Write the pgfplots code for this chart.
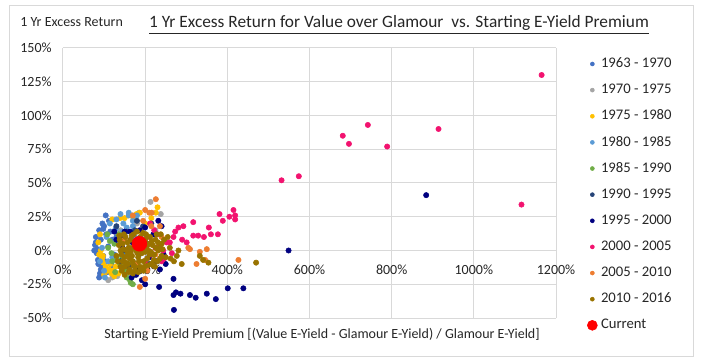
\documentclass[border=0pt]{standalone}
\usepackage{fontspec}
\setmainfont{Carlito}
\usepackage{pgfplots}
\pgfplotsset{compat=1.18}
\definecolor{c1}{HTML}{4472C4}
\definecolor{c2}{HTML}{A5A5A5}
\definecolor{c3}{HTML}{FFC000}
\definecolor{c4}{HTML}{5B9BD5}
\definecolor{c5}{HTML}{70AD47}
\definecolor{c6}{HTML}{264478}
\definecolor{c7}{HTML}{000080}
\definecolor{c8}{HTML}{F2136F}
\definecolor{c9}{HTML}{ED7D31}
\definecolor{c10}{HTML}{997300}
\definecolor{cur}{HTML}{FF0000}
\definecolor{gridc}{HTML}{D9D9D9}
\definecolor{txt}{HTML}{262626}
\pgfplotsset{
  dots/.style={only marks, mark=*, mark size=2pt, color=#1, mark options={draw=#1, fill=#1}},
}
\begin{document}
\begin{tikzpicture}
\begin{scope}[x=0.75pt,y=-0.75pt]
\useasboundingbox (0,0) rectangle (703,363);
\draw[color=gridc, line width=0.75pt] (9.5,5.5) rectangle (693.5,356.5);
\node[anchor=base, text=txt, font=\fontsize{13}{15}\selectfont] at (399,28) {\underline{1 Yr Excess Return for Value over Glamour\ \ vs. Starting E-Yield Premium}};
\node[anchor=base west, text=txt, font=\fontsize{10.5}{12}\selectfont, inner sep=0pt] at (20,27) {1 Yr Excess Return};
\node[anchor=base, text=txt, font=\fontsize{10.5}{12}\selectfont] at (322,338) {Starting E-Yield Premium [(Value E-Yield - Glamour E-Yield) / Glamour E-Yield]};
\end{scope}
\begin{axis}[
  at={(47.25pt,-238.5pt)}, anchor=south west,
  scale only axis, width=369.75pt, height=202.5pt,
  xmin=0, xmax=1200, ymin=-50, ymax=150,
  xtick={0,200,...,1200},
  xticklabels={0\%,200\%,400\%,600\%,800\%,1000\%,1200\%},
  ytick={-50,-25,...,150},
  yticklabels={-50\%,-25\%,0\%,25\%,50\%,75\%,100\%,125\%,150\%},
  grid=major, major grid style={draw=gridc, line width=0.75pt},
  axis line style={draw=none}, major tick length=0pt,
  tick label style={font=\fontsize{10.5}{12}\selectfont, text=txt},
  xticklabel style={anchor=base, yshift=32.25pt},
  yticklabel style={anchor=east, xshift=-5pt},
  legend style={at={(axis description cs:1.0629,0.9667)}, anchor=north west, draw=none, fill=none,
    inner sep=0pt, outer sep=0pt, row sep=9.1pt, column sep=2.5pt,
    nodes={inner sep=0pt, text height=8pt, text depth=2.5pt, font=\fontsize{11}{13}\selectfont, text=txt}},
  legend cell align=left,
  legend image code/.code={\path[draw=none,fill=none] (-4pt,-4pt) rectangle (4pt,4pt); \fill[#1] (0pt,0pt) circle (1.5pt);},
]
\addplot[dots=c1] coordinates {(78,4)(80,10)(82,-2)(85,-7)(88,15)(90,-17)(84,1)(92,8)(95,-12)(100,18)(98,-4)(105,12)(110,3)(86,-10)(92,-14)(80,6)(103,-8)(115,14)(120,8)(96,20)(108,-16)(125,-3)(130,10)(118,-11)(112,22)(98,16)(104,26)(76,0)(88,-20)};
\addlegendentry{1963 - 1970}
\addplot[dots=c2] coordinates {(213,36)(238,27)(132,-19)(150,-12)(160,5)(170,-8)(140,15)(180,20)(195,12)(165,-15)(205,-5)(120,-20)(185,28)(225,15)(110,-22)};
\addlegendentry{1970 - 1975}
\addplot[dots=c3] coordinates {(86,6)(92,0)(97,-4)(98,-9)(104,-12)(112,-14)(120,-15)(108,-15)(128,-12)(90,12)(120,23)(139,24)(160,26)(179,27)(187,28)(170,25)(150,24)(226,28)(200,20)(135,-17)(100,-18)(95,-6)(115,-10)(215,24)(230,32)(190,14)(88,-3)(118,-17)(125,-19)};
\addlegendentry{1975 - 1980}
\addplot[dots=c4] coordinates {(114,20)(130,23)(147,20)(155,17)(106,10)(100,-15)(120,-5)(135,5)(170,18)(160,26)(140,27)(128,16)(110,-8)(150,-3)(175,10)(95,2)(145,14)(160,28)(170,22)(180,26)(102,-20)(90,-8)};
\addlegendentry{1980 - 1985}
\addplot[dots=c5] coordinates {(114,7)(110,2)(118,-2)(131,-6)(139,-10)(155,-20)(163,-22)(150,-15)(125,5)(145,-5)(170,-25)(175,-18)(135,12)(120,-8)(160,-10)(165,-24)(127,-16)(108,12)};
\addlegendentry{1985 - 1990}
\addplot[dots=c6] coordinates {(165,8)(175,15)(150,0)(185,-3)(195,18)(140,-8)(205,5)(160,-12)(180,22)(210,-10)(155,14)(130,18)(215,20)};
\addlegendentry{1990 - 1995}
\addplot[dots=c7] coordinates {(139,10)(150,14)(187,15)(200,17)(232,22)(240,18)(163,14)(170,6)(220,12)(145,2)(130,8)(125,14)(210,-5)(250,-10)(178,-18)(167,-20)(192,-22)(200,-25)(228,-8)(236,-14)(234,-27)(269,-21)(269,-33)(275,-31)(286,-32)(309,-33)(323,-35)(350,-32)(372,-36)(401,-28)(439,-28)(270,-44)(884,41)(549,0)(245,-3)};
\addlegendentry{1995 - 2000}
\addplot[dots=c8] coordinates {(532,52)(574,55)(681,85)(696,79)(742,93)(789,77)(914,90)(1116,34)(1165,130)(415,30)(405,25)(419,26)(419,23)(389,22)(381,27)(355,17)(360,12)(377,12)(343,10)(317,21)(317,11)(329,11)(293,18)(281,17)(273,14)(269,10)(252,6)(236,4)(244,0)(246,-6)(301,6)(260,6)(290,8)(230,12)(215,-3)(225,2)(205,10)(200,-8)(265,-2)(240,-8)(212,20)(222,15)};
\addlegendentry{2000 - 2005}
\addplot[dots=c9] coordinates {(226,38)(210,28)(216,28)(236,18)(309,1)(350,1)(333,-1)(346,-7)(325,-10)(427,-7)(187,-27)(200,-21)(305,2)(200,30)(195,22)(215,18)(180,-10)(160,-5)(205,-15)(185,5)(150,8)(225,-3)(170,26)(240,10)};
\addlegendentry{2005 - 2010}
\addplot[dots=c10] coordinates {(140,0)(145,5)(150,-5)(152,10)(158,-10)(160,2)(165,8)(168,-4)(172,12)(175,-12)(178,0)(182,6)(185,-8)(188,10)(192,-2)(195,4)(198,-12)(200,8)(205,-6)(208,0)(212,10)(215,-10)(218,4)(222,-3)(225,8)(230,-8)(150,-12)(162,-14)(175,-15)(190,-14)(180,14)(195,13)(210,5)(170,-8)(155,0)(165,-1)(185,2)(200,-1)(220,-11)(235,2)(145,-8)(136,4)(130,-4)(140,-12)(228,12)(240,-4)(246,8)(232,0)(150,-18)(170,-17)(238,12)(277,-4)(281,0)(289,-10)(333,-4)(341,-7)(354,-9)(470,-9)(260,2)(250,-5)(240,5)(262,-6)(270,-8)(255,10)(138,8)(142,-3)(148,12)(153,-9)(157,6)(163,-6)(167,11)(172,-11)(177,4)(183,-5)(187,-12)(191,7)(196,-8)(202,12)(207,-11)(211,-3)(216,7)(221,-7)(226,2)(231,6)(236,-6)(242,1)(147,1)(158,-3)(169,2)(181,-2)(193,0)(204,3)(214,-1)(224,-12)(196,-15)(183,-16)(160,-16)(143,-15)(133,-8)(137,11)};
\addlegendentry{2010 - 2016}
\addplot[only marks, mark=*, mark size=5.6pt, color=cur, mark options={draw=cur, fill=cur},
  legend image code/.code={\path[draw=none,fill=none] (-4pt,-4pt) rectangle (4pt,4pt); \fill[cur] (0pt,0pt) circle (3.75pt);}] coordinates {(186,5)};
\addlegendentry{Current}
\end{axis}
\end{tikzpicture}
\end{document}
